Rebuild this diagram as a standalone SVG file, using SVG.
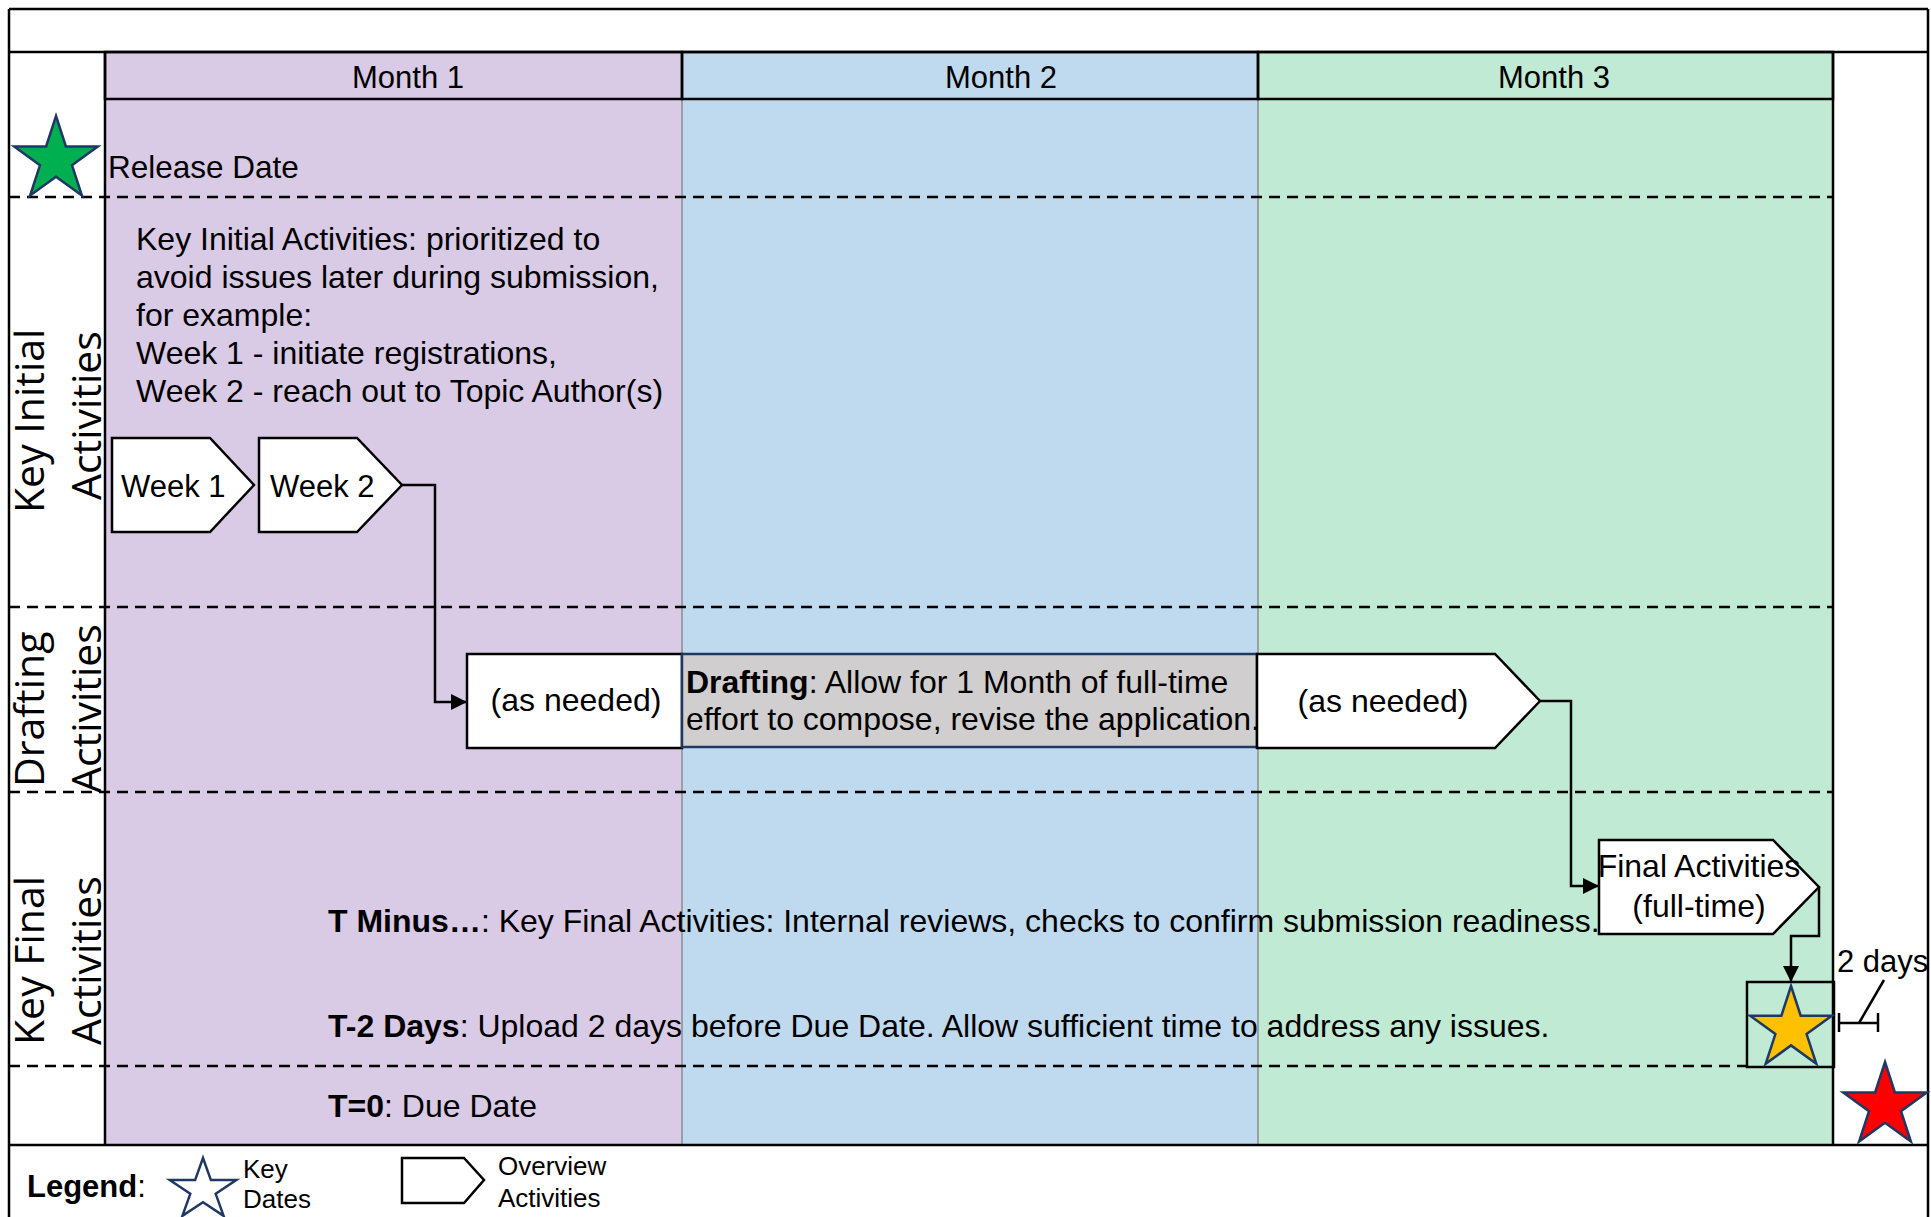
<svg xmlns="http://www.w3.org/2000/svg" width="1931" height="1217" viewBox="0 0 1931 1217">
<defs>
<style>
.t{font-family:"Liberation Sans",Arial,sans-serif;font-size:32px;fill:#000}
.m{font-family:"Liberation Sans",Arial,sans-serif;font-size:31px;fill:#000;text-anchor:middle}
.c{text-anchor:middle}
.b{font-weight:bold}
.lane{font-family:"Open Sans","DejaVu Sans",sans-serif;font-size:41px;fill:#000}
.sm{font-family:"Liberation Sans",Arial,sans-serif;font-size:26px;fill:#000}
.box{fill:#fff;stroke:#000;stroke-width:2.5}
.dash{stroke:#000;stroke-width:2.5;stroke-dasharray:11 7;fill:none}
.conn{fill:none;stroke:#000;stroke-width:2.5}
.star{stroke:#203864;stroke-width:2.5}
.frame{stroke:#000;stroke-width:2.5;fill:none}
.div{stroke:#8c8c8c;stroke-width:1.5}
</style>
<marker id="arr" markerUnits="userSpaceOnUse" markerWidth="17" markerHeight="16" refX="16" refY="8" orient="auto">
<path d="M0,0 L16,8 L0,16 Z" fill="#000"/>
</marker>
</defs>
<rect x="0" y="0" width="1931" height="1217" fill="#fff"/>

<g id="background">
<rect x="105" y="52" width="577" height="1093" fill="#D9CAE5"/>
<rect x="682" y="52" width="576" height="1093" fill="#BFD9EE"/>
<rect x="1258" y="52" width="575" height="1093" fill="#C0EAD4"/>
<line class="div" x1="682" y1="99" x2="682" y2="1145"/>
<line class="div" x1="1258" y1="99" x2="1258" y2="1145"/>
<rect x="105" y="52" width="577" height="47" fill="none" stroke="#000" stroke-width="2.5"/>
<rect x="682" y="52" width="576" height="47" fill="none" stroke="#000" stroke-width="2.5"/>
<rect x="1258" y="52" width="575" height="47" fill="none" stroke="#000" stroke-width="2.5"/>
<line class="frame" x1="105" y1="52" x2="105" y2="1145"/>
<line class="frame" x1="1833" y1="52" x2="1833" y2="1145"/>
<line class="frame" x1="9" y1="9" x2="1928" y2="9"/>
<line class="frame" x1="9" y1="52" x2="1928" y2="52"/>
<line class="frame" x1="9" y1="9" x2="9" y2="1217"/>
<line class="frame" x1="1928" y1="9" x2="1928" y2="1217"/>
<line class="frame" x1="9" y1="1145" x2="1928" y2="1145"/>
<line class="dash" x1="9" y1="197" x2="1833" y2="197"/>
<line class="dash" x1="9" y1="607" x2="1833" y2="607"/>
<line class="dash" x1="9" y1="792" x2="1833" y2="792"/>
<line class="dash" x1="9" y1="1066" x2="1747" y2="1066"/>
</g>

<g id="headers">
<text class="m" x="408" y="88">Month 1</text>
<text class="m" x="1001" y="88">Month 2</text>
<text class="m" x="1554" y="88">Month 3</text>
</g>

<g id="lane-labels">
<text class="lane" transform="translate(44,513) rotate(-90)">Key Initial</text>
<text class="lane" transform="translate(101,500) rotate(-90)">Activities</text>
<text class="lane" transform="translate(44,787) rotate(-90)">Drafting</text>
<text class="lane" transform="translate(101,793) rotate(-90)">Activities</text>
<text class="lane" transform="translate(44,1045) rotate(-90)">Key Final</text>
<text class="lane" transform="translate(101,1045) rotate(-90)">Activities</text>
</g>

<g id="release-date">
<polygon class="star" fill="#00B050" points="56,116 65.9,146.4 97.8,146.4 72,165.2 81.9,195.6 56,176.8 30.1,195.6 40,165.2 14.2,146.4 46.1,146.4"/>
<text class="t" x="108" y="178" style="font-size:31.5px">Release Date</text>
</g>

<g id="initial-text">
<text class="t" x="136" y="250">Key Initial Activities: prioritized to</text>
<text class="t" x="136" y="288">avoid issues later during submission,</text>
<text class="t" x="136" y="326">for example:</text>
<text class="t" x="136" y="364">Week 1 - initiate registrations,</text>
<text class="t" x="136" y="402">Week 2 - reach out to Topic Author(s)</text>
</g>

<g id="week1">
<path class="box" d="M112,438 H210 L254,485 L210,532 H112 Z"/>
<text class="t" x="121" y="497" style="font-size:31px">Week 1</text>
</g>
<g id="week2">
<path class="box" d="M259,438 H357 L402,485 L357,532 H259 Z"/>
<text class="t" x="270" y="497" style="font-size:31px">Week 2</text>
</g>

<g id="as-needed-1">
<rect class="box" x="467" y="654" width="215" height="94"/>
<text class="t c" x="576" y="711">(as needed)</text>
</g>

<g id="drafting">
<rect x="682" y="654" width="575" height="93" fill="#D0CECE" stroke="#1F3864" stroke-width="2.5"/>
<text class="t" x="686" y="693"><tspan class="b">Drafting</tspan>: Allow for 1 Month of full-time</text>
<text class="t" x="686" y="730">effort to compose, revise the application.</text>
</g>

<g id="as-needed-2">
<path class="box" d="M1257,654 H1495 L1540,701 L1495,748 H1257 Z"/>
<text class="t c" x="1383" y="712">(as needed)</text>
</g>

<g id="final-activities">
<path class="box" d="M1599,840 H1773 L1819,887 L1773,934 H1599 Z"/>
<text class="t c" x="1699" y="877">Final Activities</text>
<text class="t c" x="1699" y="917">(full-time)</text>
</g>

<g id="final-text">
<text class="t" x="328" y="932"><tspan class="b">T Minus…</tspan>: Key Final Activities: Internal reviews, checks to confirm submission readiness.</text>
<text class="t" x="328" y="1037"><tspan class="b">T-2 Days</tspan>: Upload 2 days before Due Date. Allow sufficient time to address any issues.</text>
<text class="t" x="328" y="1117"><tspan class="b">T=0</tspan>: Due Date</text>
</g>

<g id="upload-star">
<rect x="1747" y="982" width="87" height="85" fill="none" stroke="#000" stroke-width="2.5"/>
<polygon class="star" fill="#FFC000" points="1791,986 1800.7,1015.7 1831.9,1015.7 1806.6,1034.1 1816.3,1063.8 1791,1045.4 1765.7,1063.8 1775.4,1034.1 1750.1,1015.7 1781.4,1015.7"/>
</g>

<g id="two-days">
<line x1="1839" y1="1023" x2="1878" y2="1023" stroke="#000" stroke-width="2.5"/>
<line x1="1839" y1="1013" x2="1839" y2="1032" stroke="#000" stroke-width="2.5"/>
<line x1="1878" y1="1013" x2="1878" y2="1032" stroke="#000" stroke-width="2.5"/>
<line x1="1859" y1="1023" x2="1884" y2="980" stroke="#000" stroke-width="2.5"/>
<text class="t" x="1837" y="972" style="font-size:31px">2 days</text>
</g>

<g id="due-date-star">
<polygon class="star" fill="#FF0000" points="1885,1062 1894.9,1092.4 1926.8,1092.4 1901,1111.2 1910.9,1141.6 1885,1122.8 1859.1,1141.6 1869,1111.2 1843.2,1092.4 1875.1,1092.4"/>
</g>

<g id="connectors">
<path class="conn" d="M402,485 H435 V702 H467" marker-end="url(#arr)"/>
<path class="conn" d="M1540,701 H1571 V886 H1599" marker-end="url(#arr)"/>
<path class="conn" d="M1819,887 V936 H1791 V982" marker-end="url(#arr)"/>
</g>

<g id="legend">
<text class="t" x="27" y="1197" style="font-size:31px"><tspan class="b">Legend</tspan>:</text>
<polygon fill="#fff" stroke="#203864" stroke-width="2.5" points="203,1158 210.9,1180.1 236.3,1180.1 215.7,1193.8 223.6,1215.9 203,1202.2 182.4,1215.9 190.3,1193.8 169.7,1180.1 195.1,1180.1"/>
<text class="sm" x="243" y="1178">Key</text>
<text class="sm" x="243" y="1208">Dates</text>
<path class="box" d="M402,1158 H464 L484,1180 L464,1203 H402 Z"/>
<text class="sm" x="498" y="1175">Overview</text>
<text class="sm" x="498" y="1207">Activities</text>
</g>
</svg>
